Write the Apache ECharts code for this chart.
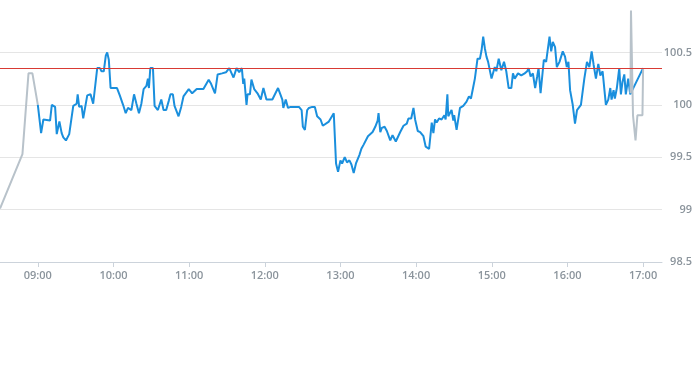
<!DOCTYPE html>
<html>
<head>
<meta charset="utf-8">
<script src="https://cdn.jsdelivr.net/npm/echarts@6/dist/echarts.min.js"></script>
<style>html,body{margin:0;padding:0;background:#fff}#c{width:695px;height:370px}</style>
</head>
<body>
<div id="c"></div>
<script>
// times are minutes since midnight
const xTickMinutes = [540, 600, 660, 720, 780, 840, 900, 960, 1020];
const yTicks = [98.5, 99, 99.5, 100, 100.5];
const referencePrice = 100.35;

const preTimes  = [510, 527.8, 532.6, 535.7, 540];
const prePrices = [99.01, 99.53, 100.3, 100.3, 100.0];

const postTimes  = [1010, 1010.4, 1012, 1014, 1015.5, 1019.5, 1020];
const postPrices = [100.11, 100.9, 99.9, 99.66, 99.9, 99.9, 100.34];

const mainTimes = [
 540, 542.6, 544.4, 549.7, 551.1, 553.7, 555.0, 557.1, 558.9, 560.2,
 562.3, 564.9, 568.1, 570.8, 571.6, 572.8, 574.7, 576.0, 579.2, 581.8,
 583.9, 587.1, 589.2, 590.5, 592.3, 593.9, 595.0, 596.3, 597.7, 602.8,
 605.0, 607.6, 609.7, 611.5, 614.2, 616.3, 618.2, 620.2, 622.1, 623.9,
 626.1, 627.3, 628.1, 629.2, 631.3, 632.6, 635.2, 637.9, 639.7, 641.8,
 643.9, 645.2, 647.1, 648.4, 649.7, 651.6, 653.7, 655.5, 659.7, 662.4,
 666.0, 671.3, 675.5, 677.4, 680.5, 682.6, 686.1, 689.2, 691.8, 693.2,
 695.2, 697.6, 699.7, 701.8, 702.9, 703.7, 705.5, 706.3, 708.2, 709.4,
 710.8, 711.6, 714.2, 716.8, 718.9, 720.0, 721.3, 726.0, 730.5, 733.9,
 734.7, 736.6, 738.4, 740.5, 743.1, 747.1, 749.2, 750.2, 751.8, 753.6,
 755.0, 757.6, 759.7, 761.5, 764.2, 766.0, 770.8, 774.7, 775.5, 776.5,
 778.1, 780.0, 781.3, 783.4, 785.2, 787.1, 788.7, 790.5, 792.3, 795.0,
 796.6, 798.4, 801.8, 805.5, 807.6, 809.5, 810.2, 811.6, 812.8, 815.0,
 816.8, 819.5, 821.3, 823.9, 827.4, 830.0, 832.6, 833.9, 836.1, 837.9,
 839.2, 841.3, 843.2, 845.8, 847.6, 850.3, 852.4, 853.7, 855.0, 856.3,
 858.2, 860.2, 862.4, 863.4, 864.8, 865.5, 866.9, 868.1, 869.5, 870.2,
 872.1, 873.4, 874.8, 877.4, 880.0, 881.9, 883.5, 885.3, 886.6, 888.7,
 890.6, 891.9, 893.2, 894.5, 895.8, 897.1, 898.5, 899.8, 901.1, 902.4,
 903.6, 905.5, 907.6, 909.7, 911.5, 913.4, 915.5, 916.8, 918.2, 920.8,
 923.4, 926.1, 928.1, 929.2, 930.8, 932.6, 934.4, 936.0, 937.1, 938.7,
 941.3, 943.1, 945.8, 947.1, 948.4, 950.2, 951.6, 953.7, 956.3, 958.1,
 959.5, 960.8, 962.1, 964.2, 966.0, 967.6, 970.7, 973.4, 975.5, 977.4,
 979.2, 980.8, 982.6, 984.5, 986.1, 987.9, 990.5, 992.4, 994.0, 995.0,
 996.6, 997.6, 999.2, 1001.1, 1002.4, 1003.7, 1005.1, 1006.3, 1008.2, 1009.8,
 1010.8, 1020
];
const mainPrices = [
 100.00, 99.73, 99.86, 99.85, 100.00, 99.98, 99.72, 99.84, 99.73, 99.69,
 99.66, 99.72, 99.99, 100.01, 100.10, 99.98, 99.99, 99.87, 100.09, 100.10,
 100.01, 100.35, 100.35, 100.32, 100.32, 100.47, 100.50, 100.43, 100.16, 100.16,
 100.09, 100.00, 99.92, 99.97, 99.95, 100.10, 100.01, 99.92, 100.01, 100.15,
 100.18, 100.25, 100.16, 100.35, 100.35, 99.99, 99.95, 100.05, 99.95, 99.95,
 100.04, 100.10, 100.10, 99.99, 99.95, 99.89, 99.98, 100.08, 100.15, 100.11,
 100.15, 100.15, 100.24, 100.20, 100.11, 100.29, 100.30, 100.31, 100.35, 100.35,
 100.26, 100.35, 100.31, 100.35, 100.20, 100.25, 100.00, 100.10, 100.10, 100.24,
 100.24, 100.15, 100.11, 100.05, 100.16, 100.16, 100.05, 100.05, 100.16, 100.05,
 99.97, 100.05, 99.97, 99.98, 99.98, 99.98, 99.95, 99.79, 99.76, 99.95,
 99.97, 99.98, 99.98, 99.89, 99.86, 99.80, 99.84, 99.92, 99.92, 99.44,
 99.36, 99.47, 99.44, 99.50, 99.45, 99.47, 99.43, 99.35, 99.44, 99.52,
 99.58, 99.62, 99.70, 99.74, 99.79, 99.85, 99.92, 99.74, 99.78, 99.79,
 99.75, 99.66, 99.71, 99.65, 99.74, 99.80, 99.82, 99.87, 99.87, 99.97,
 99.86, 99.75, 99.74, 99.70, 99.60, 99.58, 99.83, 99.73, 99.86, 99.83,
 99.87, 99.86, 99.90, 99.86, 100.10, 99.89, 99.89, 99.95, 99.85, 99.90,
 99.76, 99.76, 99.97, 99.99, 100.03, 100.08, 100.06, 100.17, 100.25, 100.44,
 100.44, 100.52, 100.65, 100.54, 100.46, 100.41, 100.42, 100.25, 100.25, 100.36,
 100.32, 100.44, 100.33, 100.41, 100.32, 100.16, 100.16, 100.30, 100.25, 100.30,
 100.28, 100.30, 100.32, 100.35, 100.27, 100.30, 100.16, 100.27, 100.35, 100.11,
 100.43, 100.41, 100.65, 100.51, 100.60, 100.55, 100.36, 100.41, 100.51, 100.46,
 100.36, 100.41, 100.14, 100.00, 99.82, 99.95, 100.00, 100.25, 100.41, 100.36,
 100.51, 100.38, 100.25, 100.39, 100.28, 100.32, 100.00, 100.05, 100.16, 100.05,
 100.14, 100.06, 100.16, 100.35, 100.10, 100.22, 100.29, 100.10, 100.25, 100.10,
 100.11, 100.35
];

function zip(a, b) { return a.map((t, i) => [t, b[i]]); }
function hhmm(m) {
  const h = Math.floor(m / 60), mm = Math.round(m % 60);
  return String(h).padStart(2, '0') + ':' + String(mm).padStart(2, '0');
}

const chart = echarts.init(document.getElementById('c'), null, {renderer: 'canvas'});
const labelFont = {color: '#8b949c', fontSize: 11, fontWeight: 600, fontFamily: 'Open Sans'};
chart.setOption({
  animation: false,
  grid: {left: 0, right: 31, top: 0, bottom: 108, containLabel: false},
  xAxis: {
    type: 'value', min: 510, max: 1035,
    axisLine: {lineStyle: {color: '#ccd3db', width: 1}},
    axisTick: {show: true, length: 5, customValues: xTickMinutes, lineStyle: {color: '#ccd3db'}},
    axisLabel: Object.assign({customValues: xTickMinutes, margin: 8, formatter: v => hhmm(v)}, labelFont),
    splitLine: {show: false}
  },
  yAxis: {
    type: 'value', position: 'right', min: 98.5, max: 101, interval: 0.5,
    axisLine: {show: false}, axisTick: {show: false},
    axisLabel: Object.assign({showMaxLabel: false, align: 'right', margin: 30, formatter: v => String(v)}, labelFont),
    splitLine: {showMaxLine: false, showMinLine: false, lineStyle: {color: '#e5e5e5', width: 1}}
  },
  series: [
    {type: 'line', data: zip(preTimes, prePrices), showSymbol: false, symbol: 'none',
     lineStyle: {color: '#b8c2ca', width: 2}, z: 2},
    {type: 'line', data: zip(mainTimes, mainPrices), showSymbol: false, symbol: 'none',
     lineStyle: {color: '#1a8fdd', width: 2}, z: 3,
     markLine: {silent: true, symbol: 'none', label: {show: false},
       lineStyle: {color: '#d83a34', width: 1, type: 'solid'},
       data: [{yAxis: referencePrice}]}},
    {type: 'line', data: zip(postTimes, postPrices), showSymbol: false, symbol: 'none',
     lineStyle: {color: '#b8c2ca', width: 2}, z: 4}
  ]
});
</script>
</body>
</html>
